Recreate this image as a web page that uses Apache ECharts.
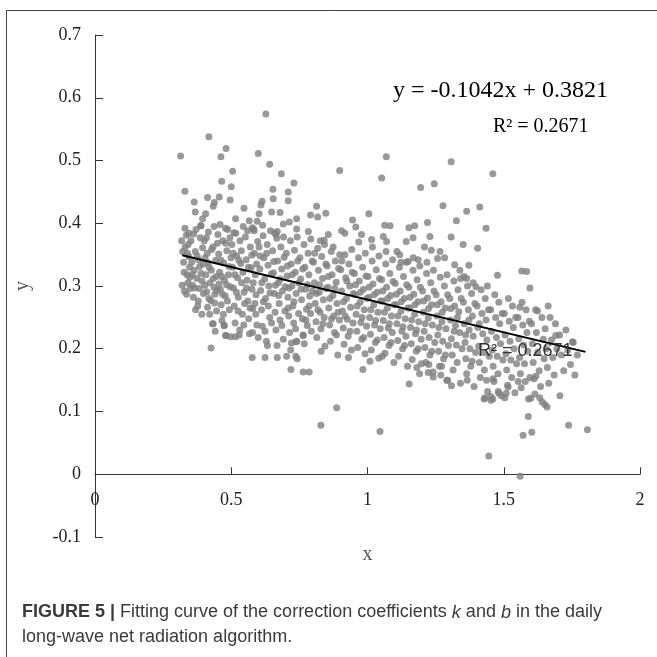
<!DOCTYPE html>
<html>
<head>
<meta charset="utf-8">
<script src="https://cdn.jsdelivr.net/npm/echarts@6/dist/echarts.min.js"></script>
<style>
  html, body { margin: 0; padding: 0; background: #fff; }
  #myChart { width: 657px; height: 657px; }
</style>
</head>
<body>
<div id="myChart"></div>
<script>
// points in the dense band, read column by column (x, y)
var bandLeft = [
  [0.318,0.372],[0.322,0.355],[0.325,0.338],[0.320,0.301],[0.328,0.292],[0.331,0.362],[0.335,0.381],[0.338,0.318],[0.341,0.305],[0.344,0.347],[0.336,0.287],[0.347,0.330],[0.342,0.366],[0.349,0.296],[0.327,0.322],[0.345,0.384],[0.339,0.352],[0.348,0.314],
  [0.352,0.372],[0.355,0.338],[0.358,0.301],[0.361,0.282],[0.364,0.325],[0.368,0.355],[0.371,0.390],[0.374,0.312],[0.377,0.268],[0.380,0.342],[0.383,0.296],[0.386,0.377],[0.389,0.320],[0.392,0.255],[0.395,0.361],[0.398,0.288],[0.357,0.318],[0.366,0.297],[0.375,0.348],[0.384,0.331],[0.393,0.308],[0.362,0.383],[0.379,0.276],[0.388,0.396],[0.397,0.335],[0.369,0.262],
  [0.401,0.372],[0.404,0.345],[0.407,0.318],[0.410,0.291],[0.413,0.266],[0.416,0.386],[0.419,0.330],[0.422,0.305],[0.425,0.277],[0.428,0.358],[0.431,0.240],[0.434,0.312],[0.437,0.395],[0.440,0.287],[0.443,0.341],[0.446,0.260],[0.449,0.368],[0.403,0.301],[0.412,0.352],[0.418,0.280],[0.427,0.325],[0.436,0.298],[0.445,0.315],[0.409,0.377],[0.421,0.255],[0.433,0.362],[0.441,0.228],[0.448,0.293],[0.415,0.337],[0.439,0.273],
  [0.451,0.382],[0.454,0.351],[0.457,0.322],[0.460,0.295],[0.463,0.270],[0.466,0.245],[0.469,0.372],[0.472,0.337],[0.475,0.309],[0.478,0.284],[0.481,0.221],[0.484,0.356],[0.487,0.390],[0.490,0.318],[0.493,0.262],[0.496,0.299],[0.499,0.345],[0.455,0.303],[0.462,0.341],[0.468,0.287],[0.474,0.237],[0.480,0.368],[0.486,0.276],[0.492,0.331],[0.498,0.219],[0.459,0.398],[0.471,0.255],[0.483,0.302],[0.495,0.377],[0.465,0.315],
  [0.502,0.366],[0.505,0.330],[0.508,0.297],[0.511,0.268],[0.514,0.241],[0.517,0.384],[0.520,0.348],[0.523,0.313],[0.526,0.282],[0.529,0.222],[0.532,0.372],[0.535,0.336],[0.538,0.305],[0.541,0.255],[0.544,0.395],[0.547,0.290],[0.507,0.352],[0.513,0.318],[0.519,0.290],[0.525,0.260],[0.531,0.230],[0.537,0.356],[0.543,0.322],[0.549,0.272],[0.510,0.385],[0.528,0.341],[0.546,0.238],
  [0.552,0.378],[0.555,0.342],[0.558,0.309],[0.561,0.276],[0.564,0.248],[0.567,0.224],[0.570,0.362],[0.573,0.329],[0.576,0.295],[0.579,0.264],[0.582,0.391],[0.585,0.352],[0.588,0.318],[0.591,0.286],[0.594,0.238],[0.597,0.371],[0.556,0.297],[0.563,0.330],[0.569,0.265],[0.575,0.349],[0.581,0.305],[0.587,0.272],[0.593,0.335],[0.599,0.218],[0.560,0.388],[0.578,0.226],[0.590,0.255],
  [0.602,0.362],[0.605,0.327],[0.608,0.293],[0.611,0.262],[0.614,0.236],[0.617,0.380],[0.620,0.345],[0.623,0.311],[0.626,0.280],[0.629,0.212],[0.632,0.366],[0.635,0.333],[0.638,0.300],[0.641,0.250],[0.644,0.388],[0.647,0.319],[0.606,0.348],[0.612,0.305],[0.618,0.275],[0.624,0.228],[0.630,0.352],[0.636,0.268],[0.642,0.289],[0.648,0.241],[0.615,0.397],[0.633,0.205],
  [0.652,0.356],[0.655,0.321],[0.658,0.288],[0.661,0.258],[0.664,0.230],[0.667,0.376],[0.670,0.340],[0.673,0.305],[0.676,0.272],[0.679,0.246],[0.682,0.362],[0.685,0.327],[0.688,0.292],[0.691,0.215],[0.694,0.346],[0.697,0.260],[0.656,0.339],[0.662,0.301],[0.668,0.205],[0.674,0.285],[0.680,0.311],[0.686,0.237],[0.692,0.378],[0.698,0.299],[0.659,0.385]
];

var bandMid = [
  [0.702,0.352],[0.705,0.316],[0.708,0.282],[0.711,0.252],[0.714,0.226],[0.717,0.372],[0.720,0.335],[0.723,0.300],[0.726,0.268],[0.729,0.241],[0.732,0.357],[0.735,0.322],[0.738,0.288],[0.741,0.212],[0.744,0.340],[0.747,0.256],[0.706,0.332],[0.712,0.297],[0.718,0.198],[0.724,0.318],[0.730,0.275],[0.736,0.232],[0.742,0.378],[0.748,0.305],[0.709,0.265],
  [0.752,0.345],[0.755,0.311],[0.758,0.278],[0.761,0.248],[0.764,0.222],[0.767,0.366],[0.770,0.330],[0.773,0.295],[0.776,0.263],[0.779,0.237],[0.782,0.352],[0.785,0.318],[0.788,0.284],[0.791,0.256],[0.794,0.228],[0.797,0.340],[0.756,0.295],[0.762,0.327],[0.768,0.208],[0.774,0.246],[0.780,0.302],[0.786,0.268],[0.792,0.375],[0.798,0.292],
  [0.802,0.338],[0.805,0.305],[0.808,0.272],[0.811,0.243],[0.814,0.218],[0.817,0.360],[0.820,0.325],[0.823,0.290],[0.826,0.258],[0.829,0.232],[0.832,0.347],[0.835,0.312],[0.838,0.278],[0.841,0.250],[0.844,0.204],[0.847,0.335],[0.806,0.352],[0.812,0.288],[0.818,0.262],[0.824,0.302],[0.830,0.196],[0.836,0.240],[0.842,0.366],[0.848,0.296],
  [0.852,0.332],[0.855,0.298],[0.858,0.265],[0.861,0.238],[0.864,0.212],[0.867,0.355],[0.870,0.318],[0.873,0.285],[0.876,0.252],[0.879,0.226],[0.882,0.340],[0.885,0.306],[0.888,0.272],[0.891,0.190],[0.894,0.328],[0.897,0.246],[0.856,0.315],[0.862,0.280],[0.868,0.248],[0.874,0.362],[0.880,0.296],[0.886,0.222],[0.892,0.258],[0.898,0.350],
  [0.902,0.326],[0.905,0.292],[0.908,0.260],[0.911,0.233],[0.914,0.207],[0.917,0.350],[0.920,0.313],[0.923,0.280],[0.926,0.247],[0.929,0.220],[0.932,0.335],[0.935,0.300],[0.938,0.266],[0.941,0.198],[0.944,0.322],[0.947,0.241],[0.906,0.340],[0.912,0.275],[0.918,0.252],[0.924,0.308],[0.930,0.186],[0.936,0.228],[0.942,0.358],[0.948,0.288],
  [0.952,0.320],[0.955,0.286],[0.958,0.255],[0.961,0.228],[0.964,0.202],[0.967,0.345],[0.970,0.308],[0.973,0.274],[0.976,0.242],[0.979,0.215],[0.982,0.330],[0.985,0.295],[0.988,0.262],[0.991,0.192],[0.994,0.316],[0.997,0.236],[0.956,0.302],[0.962,0.268],[0.968,0.370],[0.974,0.290],[0.980,0.250],[0.986,0.218],[0.992,0.352],[0.998,0.280],
  [1.002,0.315],[1.005,0.282],[1.008,0.250],[1.011,0.223],[1.014,0.198],[1.017,0.340],[1.020,0.303],[1.023,0.270],[1.026,0.238],[1.029,0.210],[1.032,0.326],[1.035,0.290],[1.038,0.258],[1.041,0.185],[1.044,0.312],[1.047,0.232],[1.006,0.298],[1.012,0.262],[1.018,0.362],[1.024,0.286],[1.030,0.245],[1.036,0.214],[1.042,0.348],[1.048,0.276],
  [1.052,0.310],[1.055,0.276],[1.058,0.245],[1.061,0.218],[1.064,0.193],[1.067,0.335],[1.070,0.298],[1.073,0.265],[1.076,0.233],[1.079,0.205],[1.082,0.320],[1.085,0.285],[1.088,0.252],[1.091,0.226],[1.094,0.307],[1.097,0.178],[1.056,0.292],[1.062,0.258],[1.068,0.355],[1.074,0.280],[1.080,0.240],[1.086,0.210],[1.092,0.342],[1.098,0.270],
  [1.102,0.304],[1.105,0.270],[1.108,0.240],[1.111,0.213],[1.114,0.188],[1.117,0.330],[1.120,0.292],[1.123,0.260],[1.126,0.228],[1.129,0.200],[1.132,0.315],[1.135,0.280],[1.138,0.248],[1.141,0.220],[1.144,0.302],[1.147,0.172],[1.106,0.287],[1.112,0.252],[1.118,0.350],[1.124,0.275],[1.130,0.235],[1.136,0.205],[1.142,0.338],[1.148,0.265],
  [1.152,0.298],[1.155,0.265],[1.158,0.234],[1.161,0.208],[1.164,0.183],[1.167,0.325],[1.170,0.287],[1.173,0.255],[1.176,0.224],[1.179,0.196],[1.182,0.310],[1.185,0.275],[1.188,0.243],[1.191,0.160],[1.194,0.298],[1.197,0.215],[1.156,0.282],[1.162,0.246],[1.168,0.345],[1.174,0.270],[1.180,0.230],[1.186,0.200],[1.192,0.332]
];

var bandRight = [
  [1.202,0.292],[1.205,0.258],[1.208,0.228],[1.211,0.202],[1.214,0.178],[1.217,0.320],[1.220,0.281],[1.223,0.249],[1.226,0.218],[1.229,0.190],[1.232,0.305],[1.235,0.270],[1.238,0.238],[1.241,0.155],[1.244,0.292],[1.247,0.210],[1.206,0.276],[1.212,0.240],[1.218,0.338],[1.224,0.264],[1.236,0.196],[1.242,0.325],
  [1.252,0.286],[1.255,0.252],[1.258,0.222],[1.261,0.196],[1.264,0.172],[1.267,0.314],[1.270,0.275],[1.273,0.243],[1.276,0.212],[1.279,0.184],[1.282,0.300],[1.285,0.265],[1.288,0.232],[1.291,0.150],[1.294,0.286],[1.297,0.205],[1.256,0.270],[1.262,0.234],[1.274,0.258],[1.286,0.190],[1.292,0.318],
  [1.302,0.280],[1.305,0.246],[1.308,0.216],[1.311,0.190],[1.314,0.166],[1.317,0.308],[1.320,0.268],[1.323,0.237],[1.326,0.206],[1.329,0.178],[1.332,0.294],[1.335,0.259],[1.338,0.226],[1.341,0.145],[1.344,0.280],[1.347,0.200],[1.306,0.264],[1.318,0.228],[1.330,0.250],[1.342,0.312],
  [1.352,0.274],[1.355,0.240],[1.358,0.210],[1.361,0.184],[1.364,0.160],[1.367,0.300],[1.370,0.262],[1.373,0.230],[1.376,0.200],[1.379,0.172],[1.382,0.288],[1.385,0.252],[1.388,0.220],[1.391,0.140],[1.394,0.272],[1.397,0.194],[1.360,0.222],[1.372,0.246],[1.384,0.180],
  [1.402,0.268],[1.405,0.234],[1.408,0.204],[1.411,0.178],[1.414,0.154],[1.417,0.294],[1.420,0.256],[1.423,0.224],[1.426,0.194],[1.429,0.166],[1.432,0.280],[1.435,0.246],[1.438,0.214],[1.441,0.132],[1.444,0.262],[1.447,0.188],[1.410,0.240],[1.428,0.120],[1.440,0.300],
  [1.452,0.262],[1.455,0.228],[1.458,0.198],[1.461,0.172],[1.464,0.148],[1.467,0.286],[1.470,0.250],[1.473,0.218],[1.476,0.188],[1.479,0.160],[1.482,0.274],[1.485,0.240],[1.488,0.208],[1.491,0.125],[1.494,0.256],[1.497,0.182],[1.460,0.120],[1.480,0.132],
  [1.502,0.256],[1.505,0.222],[1.508,0.192],[1.511,0.166],[1.514,0.142],[1.517,0.280],[1.520,0.244],[1.523,0.212],[1.526,0.182],[1.529,0.154],[1.532,0.268],[1.535,0.234],[1.538,0.200],[1.541,0.130],[1.544,0.250],[1.547,0.176],
  [1.552,0.250],[1.555,0.216],[1.558,0.186],[1.561,0.160],[1.564,0.138],[1.567,0.274],[1.570,0.238],[1.573,0.206],[1.576,0.176],[1.579,0.148],[1.582,0.262],[1.585,0.226],[1.588,0.196],[1.591,0.120],[1.594,0.244],
  [1.602,0.240],[1.605,0.208],[1.608,0.178],[1.611,0.152],[1.614,0.128],[1.617,0.262],[1.620,0.226],[1.625,0.195],[1.630,0.165],[1.635,0.140],[1.640,0.250],[1.645,0.215],[1.648,0.184],
  [1.652,0.232],[1.656,0.200],[1.660,0.170],[1.665,0.145],[1.670,0.250],[1.675,0.214],[1.680,0.186],[1.685,0.158],[1.690,0.240],[1.695,0.200],
  [1.705,0.222],[1.712,0.190],[1.720,0.165],[1.728,0.230],[1.735,0.198],[1.745,0.175],[1.755,0.210],[1.770,0.190]
];

// scattered points above the band
var upperPts = [
  [0.627,0.574],[0.418,0.538],[0.314,0.507],[0.481,0.519],[0.462,0.506],[0.599,0.511],[0.641,0.494],[0.505,0.483],[0.684,0.479],[0.465,0.467],[0.730,0.464],[0.330,0.451],[0.500,0.458],[0.653,0.454],[0.709,0.450],[0.364,0.434],[0.413,0.441],[0.456,0.442],[0.438,0.433],[0.434,0.427],[0.496,0.437],[0.613,0.435],[0.609,0.429],[0.654,0.439],[0.709,0.436],[0.547,0.424],[0.368,0.418],[0.406,0.415],[0.602,0.415],[0.648,0.418],[0.679,0.417],[0.791,0.413],[0.395,0.407],[0.516,0.407],[0.566,0.404],[0.595,0.403],[0.740,0.407],[0.713,0.402],[0.691,0.399],[0.577,0.393],[0.584,0.388],[0.669,0.387],[0.664,0.382],[0.330,0.392],[0.389,0.396],[0.479,0.392],[0.740,0.391],[0.783,0.387],
  [1.069,0.506],[0.898,0.484],[1.307,0.498],[1.052,0.472],[1.195,0.457],[1.245,0.463],[1.277,0.428],[0.813,0.427],[0.847,0.416],[0.817,0.410],[1.005,0.415],[1.326,0.404],[0.945,0.405],[0.957,0.394],[1.063,0.397],[1.083,0.396],[1.152,0.393],[1.173,0.396],[1.220,0.401],[0.905,0.388],[0.917,0.384],[0.856,0.382],[0.978,0.382],[1.058,0.379],[1.070,0.371],[1.142,0.371],[1.167,0.377],[1.229,0.379],[1.307,0.378],[1.015,0.374],[0.827,0.372],[0.841,0.373],[1.209,0.362],[1.234,0.357],[1.266,0.355],[1.257,0.344],[1.283,0.345],[1.108,0.355],[1.186,0.342],[1.320,0.334],[1.123,0.338],[1.149,0.339],
  [1.460,0.479],[1.364,0.419],[1.412,0.426],[1.435,0.392],[1.351,0.366],[1.404,0.360],[1.372,0.333],[1.477,0.317],[1.566,0.324],[1.584,0.323],[1.339,0.325],[1.354,0.315],[1.364,0.312],[1.388,0.305],[1.398,0.299],[1.596,0.297],[1.559,0.266],[1.624,0.260],[1.663,0.268],[1.691,0.221],[1.752,0.211]
];

// scattered points below the band
var lowerPts = [
  [1.761,0.158],[1.706,0.125],[1.659,0.107],[1.590,0.092],[1.738,0.078],[1.807,0.071],[1.571,0.062],[1.603,0.067],[1.445,0.029],[1.560,-0.003],[1.599,0.121],[1.516,0.139],
  [0.887,0.106],[0.829,0.078],[1.046,0.068],[1.153,0.144],[0.983,0.167],[1.009,0.180],[1.054,0.188],
  [0.426,0.201],[0.577,0.186],[0.624,0.186],[0.669,0.186],[0.703,0.188],[0.737,0.188],[0.742,0.184],[0.719,0.167],[0.764,0.163],[0.786,0.163],
  [0.434,0.240],[0.474,0.237],[0.479,0.221],[0.516,0.219],[0.721,0.209],[0.737,0.211],[0.764,0.221],
  [1.431,0.122],[1.453,0.124],[1.453,0.118],[1.482,0.129],[1.504,0.122],[1.509,0.129],[1.632,0.122],[1.641,0.115],[1.651,0.111],[1.596,0.154],[1.618,0.156],[1.553,0.148],[1.366,0.150],[1.437,0.150],[1.461,0.152],
  [1.181,0.170],[1.198,0.176],[1.223,0.162],[1.241,0.163],[1.225,0.175],[1.269,0.158],[1.272,0.172],[1.294,0.150],[1.308,0.141]
];

// end points of the fitted line y = -0.1042x + 0.3821
var fitLine = [[0.32, 0.349], [1.8, 0.195]];

var fitText = 'y = -0.1042x + 0.3821';
var r2Text = 'R² = 0.2671';

var chart = echarts.init(document.getElementById('myChart'));

function fmt(v) {
  if (Math.abs(v) < 1e-9) return '0';
  return String(Math.round(v * 10) / 10);
}

chart.setOption({
  backgroundColor: '#fff',
  animation: false,
  grid: { left: 95, right: 17, top: 35, bottom: 120 },
  xAxis: {
    type: 'value',
    min: 0,
    max: 2,
    interval: 0.5,
    name: 'x',
    nameLocation: 'middle',
    nameGap: 8,
    nameTextStyle: { fontFamily: 'Liberation Serif', fontSize: 20, color: '#555' },
    axisLine: { onZero: true, lineStyle: { color: '#333', width: 1 } },
    axisTick: { inside: true, length: 7, lineStyle: { color: '#333' } },
    // labels sit under the zero line, not under the grid bottom
    axisLabel: { margin: -46, fontFamily: 'Liberation Serif', fontSize: 18, color: '#222', formatter: fmt },
    splitLine: { show: false }
  },
  yAxis: {
    type: 'value',
    min: -0.1,
    max: 0.7,
    interval: 0.1,
    name: 'y',
    nameLocation: 'middle',
    nameGap: 62,
    nameTextStyle: { fontFamily: 'Liberation Serif', fontSize: 20, color: '#555' },
    axisLine: { show: true, lineStyle: { color: '#333', width: 1 } },
    axisTick: { show: true, inside: true, length: 8, lineStyle: { color: '#333' } },
    axisLabel: { margin: 14, fontFamily: 'Liberation Serif', fontSize: 18, color: '#222', formatter: fmt },
    splitLine: { show: false }
  },
  series: [
    {
      type: 'scatter',
      symbolSize: 7,
      itemStyle: { color: '#808080' },
      data: bandLeft.concat(bandMid, bandRight, upperPts, lowerPts),
      z: 2
    },
    {
      type: 'line',
      data: fitLine,
      showSymbol: false,
      symbol: 'none',
      lineStyle: { color: '#000', width: 2 },
      z: 3
    }
  ],
  graphic: [
    {
      type: 'rect',
      shape: { x: 6.5, y: 10.5, width: 700, height: 700 },
      style: { fill: null, stroke: '#444', lineWidth: 1 },
      silent: true
    },
    {
      type: 'text',
      left: 393, top: 79,
      style: { text: fitText, fontFamily: 'Liberation Serif', fontSize: 24, fill: '#000' },
      z: 10
    },
    {
      type: 'text',
      left: 493, top: 117,
      style: { text: r2Text, fontFamily: 'Liberation Serif', fontSize: 20, fill: '#000' },
      z: 10
    },
    {
      type: 'text',
      left: 478, top: 342,
      style: { text: r2Text, fontFamily: 'Liberation Sans', fontSize: 18, fill: '#333' },
      z: 10
    },
    {
      type: 'text',
      left: 22, top: 600,
      style: {
        text: '{b|FIGURE 5 |} Fitting curve of the correction coefficients {i|k} and {i|b} in the daily\nlong-wave net radiation algorithm.',
        fontFamily: 'Liberation Sans', fontSize: 18, fill: '#3a3a3a', lineHeight: 25,
        rich: {
          b: { fontWeight: 'bold', fontFamily: 'Liberation Sans', fontSize: 18, fill: '#3a3a3a' },
          i: { fontStyle: 'italic', fontFamily: 'Liberation Sans', fontSize: 18, fill: '#3a3a3a' }
        }
      },
      z: 10
    }
  ]
});
</script>
</body>
</html>
